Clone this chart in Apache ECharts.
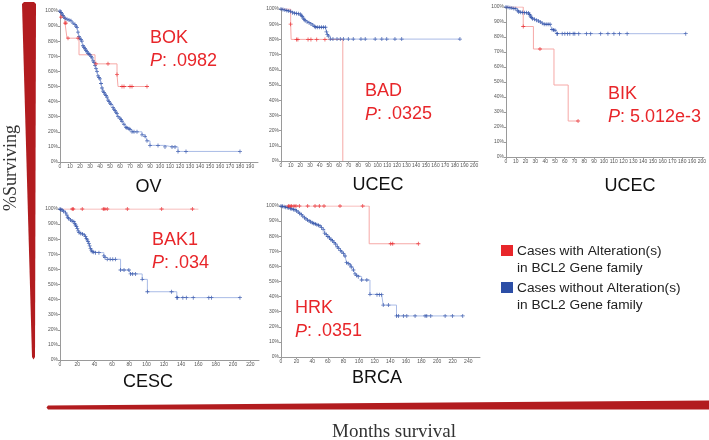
<!DOCTYPE html>
<html><head><meta charset="utf-8">
<script src="https://cdn.jsdelivr.net/npm/echarts@6/dist/echarts.min.js"></script>
<style>html,body{margin:0;padding:0;background:#fff}#c{width:709px;height:440px}</style>
</head><body><div id="c"></div><script>
// ---------- text / categories ----------
const cancerTypes = ['OV', 'UCEC', 'UCEC', 'CESC', 'BRCA'];
const geneNames = ['BOK', 'BAD', 'BIK', 'BAK1', 'HRK'];
const pValues = ['.0982', '.0325', '5.012e-3', '.034', '.0351'];
const legendLabels = ['Cases with Alteration(s)\nin BCL2 Gene family', 'Cases without Alteration(s)\nin BCL2 Gene family'];
const yAxisTitle = '%Surviving';
const xAxisTitle = 'Months survival';

// ---------- tick labels ----------
const ticks10to190 = [0,10,20,30,40,50,60,70,80,90,100,110,120,130,140,150,160,170,180,190];
const ticks10to200 = [0,10,20,30,40,50,60,70,80,90,100,110,120,130,140,150,160,170,180,190,200];
const ticks20to220 = [0,20,40,60,80,100,120,140,160,180,200,220];
const ticks20to240 = [0,20,40,60,80,100,120,140,160,180,200,220,240];
const xMaxMonths = [198, 204, 202, 230, 255];

// ---------- OV / BOK ----------
const ovAltSteps = [[0,100],[1,96],[5,92],[7,82],[19,71],[35,65],[57,58],[58,50],[87,50]];
const ovAltMarks = [[1,96],[5,92],[6,92],[8,82],[18,82],[36,65],[48,65],[57,58],[62,50],[64,50],[70,50],[72,50],[87,50]];
const ovUnalt = [[0,100],[1,99],[2,98],[3,97],[4,96],[5,95],[7,94.5],[9,94],[11,93.5],[13,92],[15,91],[16,90],[17,89],[18,86],[19,83],[20,82],[21,81],[22,80],[23,77],[24,76],[25,75],[26,74],[27,73],[28,72],[29,71.5],[30,71],[31,70],[32,69],[33,67],[34,66],[35,64],[36,62],[37,60],[38,57],[39,56],[40,55],[41,52],[42,49],[43,47],[44,46],[45,45],[46,44],[47,43],[48,41],[49,40],[50,39],[51,38],[53,36],[54,35],[55,34],[56,33],[57,32],[58,30],[60,29],[61,28],[62,27],[64,25],[66,23],[67,22.5],[69,22],[70,21.5],[72,20],[74,20],[77,20],[82,18],[85,17],[87,14],[90,11],[98,11],[105,10],[112,10],[115,10],[118,7],[126,7],[180,7]];

// ---------- UCEC / BAD ----------
const badAltSteps = [[0,100],[10,90],[10.5,80],[64,80],[64,0]];
const badAltMarks = [[10,90],[16,80],[17.5,80],[28,80],[31,80],[37,80],[45.5,80]];
const badUnalt = [[0,100],[2,99.6],[4,99.3],[6,99],[8,98.7],[10,98.4],[12,97.6],[14,97.2],[16,97],[18,96.8],[20,96.6],[21,95.8],[22,95],[23,94],[24,93],[25,92.4],[27,91.5],[29,91],[31,90.2],[33,89.4],[35,88.5],[36,88],[38,88],[40,88],[42,88],[44,88],[46,88],[47,85],[48,83.3],[49,82.2],[51,80.2],[53.8,80.2],[58,80.2],[61.4,80.2],[64.6,80.2],[69.7,80.2],[74.8,80.2],[82.8,80.2],[87.2,80.2],[97.5,80.2],[104.4,80.2],[109.5,80.2],[118,80.2],[125,80.2],[185.3,80.2]];

// ---------- UCEC / BIK ----------
const bikAltSteps = [[0,100],[17.6,87],[28,72],[49,48],[63.5,24],[73.6,24]];
const bikAltMarks = [[17.6,87],[34.7,72],[73.6,24]];
const bikUnalt = [[0,100],[2,99.8],[4,99.5],[6,99.3],[8,99],[10,98.8],[12,97.5],[13,96.7],[15,96.5],[17,96.3],[19,96.2],[21,96.1],[23,96],[24,95],[25,94],[26,93],[27,92.2],[29,91.8],[31,91.2],[33,90.6],[35,90],[37,89.2],[39,88.5],[41,88.5],[43,88.5],[45,88.5],[47,85],[48.5,84.7],[50,84.5],[52,82.2],[52.7,82.2],[57.4,82.2],[60.1,82.2],[62.9,82.2],[65.2,82.2],[68.6,82.2],[70.3,82.2],[74.3,82.2],[82.1,82.2],[86.5,82.2],[96.7,82.2],[104.1,82.2],[110.2,82.2],[115.9,82.2],[123.7,82.2],[183.6,82.2]];

// ---------- CESC / BAK1 ----------
const bak1AltSteps = [[0,100],[160,100]];
const bak1AltMarks = [[14.1,100],[15.3,100],[25.7,100],[50,100],[51.9,100],[54.6,100],[77.8,100],[117.5,100],[153,100]];
const bak1Unalt = [[0,100],[1,99.6],[2.5,99.3],[4,98.5],[6.4,97.5],[8,96],[9,94.5],[10,93.8],[12,92.7],[14,92],[16,91.6],[17,90.5],[18,89.4],[19,88.3],[20,87.2],[21,85.5],[22,84.3],[24,83.8],[26,83.4],[28,82.8],[29.5,81.7],[30.5,80.6],[31.4,79.5],[32.4,78.4],[33.4,77.3],[34.3,75.6],[35.3,73.9],[36.2,72.8],[37.2,71.7],[39,71.4],[41,71.1],[45,71.1],[50.7,68.9],[52,67.8],[54.6,66.7],[58,66.7],[61,66.7],[64,66.7],[70,59.6],[74,59.6],[79.6,59.6],[81.6,57],[84,57],[87.4,57],[95,53.4],[101,45.2],[129,45.2],[135,41.3],[136,41.3],[142,41.3],[146,41.3],[154,41.3],[172,41.3],[175,41.3],[208,41.3]];

// ---------- BRCA / HRK ----------
const hrkAltSteps = [[0,100],[113,75],[176,75]];
const hrkAltMarks = [[9.4,100],[11.5,100],[13.7,100],[16.7,100],[19.2,100],[23.5,100],[34.2,100],[43.6,100],[49.1,100],[55.1,100],[75.6,100],[104.7,100],[140.6,75],[143.2,75],[176,75]];
const hrkUnalt = [[0,100],[2,99.8],[4,99.5],[6,99.2],[8,99],[10,98.7],[12,98.4],[14,98],[16,97.7],[18,97.4],[20,96.8],[22,96],[24,95.1],[26,94.3],[28,93.3],[30,92.2],[32,91.5],[34,90.7],[36,90.1],[38,89.5],[40,88.9],[42,88.4],[44,88],[46,87.6],[48,87.2],[50,86.8],[52,85.8],[54,84.5],[56,82],[58,81],[60,79.8],[62,78.9],[64,77.8],[66,77],[68,75.8],[70,74.8],[72,73],[74,71.8],[76,70.6],[78,69.6],[80,68.4],[82,66.9],[84,62.5],[86,62],[88.5,61],[90,59.6],[92.7,57.6],[94.9,55],[97,54],[99,53.2],[103.4,51],[110,51],[114,41.5],[123,41.3],[126,41.3],[129,41.3],[131,34.4],[137.6,34.4],[148,27.2],[150.4,27.2],[156.8,27.2],[161.2,27.2],[171.8,27.2],[184.6,27.2],[186.8,27.2],[191.9,27.2],[210.3,27.2],[219.6,27.2],[232.9,27.2]];

// ---------- assembly ----------
const altStepsList = [ovAltSteps, badAltSteps, bikAltSteps, bak1AltSteps, hrkAltSteps];
const altMarksList = [ovAltMarks, badAltMarks, bikAltMarks, bak1AltMarks, hrkAltMarks];
const unaltList = [ovUnalt, badUnalt, bikUnalt, bak1Unalt, hrkUnalt];
const tickList = [ticks10to190, ticks10to200, ticks10to200, ticks20to220, ticks20to240];

const grids = [
  {left: 60, top: 11, width: 198, height: 151},
  {left: 281, top: 9, width: 197, height: 152},
  {left: 506, top: 7, width: 199, height: 150},
  {left: 60, top: 209, width: 199, height: 151},
  {left: 281, top: 206, width: 199, height: 151}
];
const RED = '#e8262a', RED_LINE = '#f6a8a6', BLUE = '#2c4ea6', BLUE_LINE = '#a9bbe6', WEDGE = '#b21c1f';
const plus = 'path://M2,0H3V2H5V3H3V5H2V3H0V2H2Z';
const sans = 'Liberation Sans, Arial, sans-serif';

const xAxes = [], yAxes = [], series = [];
grids.forEach((g, i) => {
  xAxes.push({
    type: 'value', gridIndex: i, min: 0, max: xMaxMonths[i],
    axisLine: {lineStyle: {color: '#9a9a9a', width: 1}},
    axisTick: {customValues: tickList[i], length: 2, lineStyle: {color: '#9a9a9a'}},
    axisLabel: {customValues: tickList[i], fontSize: 5, color: '#555', margin: 2, fontFamily: sans},
    splitLine: {show: false}
  });
  yAxes.push({
    type: 'value', gridIndex: i, min: 0, max: 100, interval: 10,
    axisLine: {show: true, lineStyle: {color: '#9a9a9a', width: 1}},
    axisTick: {show: true, length: 2, lineStyle: {color: '#9a9a9a'}},
    axisLabel: {fontSize: 5, color: '#555', margin: 2, fontFamily: sans, formatter: v => v + '%'},
    splitLine: {show: false}
  });
  series.push({
    type: 'line', step: 'end', xAxisIndex: i, yAxisIndex: i, data: unaltList[i],
    symbol: 'none', lineStyle: {color: BLUE_LINE, width: 1}, z: 2, silent: true
  });
  series.push({
    type: 'scatter', xAxisIndex: i, yAxisIndex: i, data: unaltList[i],
    symbol: plus, symbolSize: 4, itemStyle: {color: BLUE}, z: 4, silent: true
  });
  series.push({
    type: 'line', step: 'end', xAxisIndex: i, yAxisIndex: i, data: altStepsList[i],
    symbol: 'none', lineStyle: {color: RED_LINE, width: 1}, z: 3, silent: true
  });
  series.push({
    type: 'scatter', xAxisIndex: i, yAxisIndex: i, data: altMarksList[i],
    symbol: plus, symbolSize: 4, itemStyle: {color: RED}, z: 5, silent: true
  });
});

// annotation positions (pixels)
const genePos = [[150, 38], [365, 91.5], [608, 94], [152, 240], [295, 308.5]];
const titlePos = [[148.5, 187], [378, 185], [630, 186], [148, 382], [377, 378]];

const graphic = [];
genePos.forEach((p, i) => {
  graphic.push({type: 'text', x: p[0], y: p[1], z: 10, silent: true,
    style: {text: geneNames[i], fill: RED, fontSize: 18, fontFamily: sans, verticalAlign: 'middle', align: 'left'}});
  graphic.push({type: 'text', x: p[0], y: p[1] + 23, z: 10, silent: true,
    style: {text: '{i|P}: ' + pValues[i], fill: RED, fontSize: 18, fontFamily: sans, verticalAlign: 'middle', align: 'left',
      rich: {i: {fontStyle: 'italic', fontSize: 18, fontFamily: sans, fill: RED}}}});
});
titlePos.forEach((p, i) => {
  graphic.push({type: 'text', x: p[0], y: p[1], z: 10, silent: true,
    style: {text: cancerTypes[i], fill: '#111', fontSize: 18, fontFamily: sans, verticalAlign: 'middle', align: 'center'}});
});
// legend
const legendColors = [RED, BLUE];
const legendY = [245, 282];
legendY.forEach((y, i) => {
  graphic.push({type: 'rect', shape: {x: 501, y: y, width: 12, height: 11}, style: {fill: legendColors[i]}, silent: true});
  graphic.push({type: 'text', x: 517, y: y - 2, silent: true,
    style: {text: legendLabels[i], fill: '#222', fontSize: 13.7, lineHeight: 17, fontFamily: sans, verticalAlign: 'top', align: 'left'}});
});
// wedges
graphic.push({type: 'polygon', silent: true, shape: {points: [[22, 4], [24, 2], [34, 2], [36, 4], [35, 357], [33.5, 359.5], [32, 357]]}, style: {fill: WEDGE}});
graphic.push({type: 'polygon', silent: true, shape: {points: [[48, 405.5], [709, 400.5], [709, 409.5], [48, 409.5], [46.5, 407.5]]}, style: {fill: WEDGE}});
graphic.push({type: 'text', x: 11, y: 168, rotation: Math.PI / 2, silent: true,
  style: {text: yAxisTitle, fill: '#333', fontSize: 18, fontFamily: 'Liberation Serif, serif', align: 'center', verticalAlign: 'middle'}});
graphic.push({type: 'text', x: 394, y: 432, silent: true,
  style: {text: xAxisTitle, fill: '#333', fontSize: 19, fontFamily: 'Liberation Serif, serif', align: 'center', verticalAlign: 'middle'}});

const chart = echarts.init(document.getElementById('c'), null, {renderer: 'canvas'});
chart.setOption({
  animation: false,
  backgroundColor: '#fff',
  grid: grids,
  xAxis: xAxes,
  yAxis: yAxes,
  series: series,
  graphic: graphic
});
</script></body></html>
